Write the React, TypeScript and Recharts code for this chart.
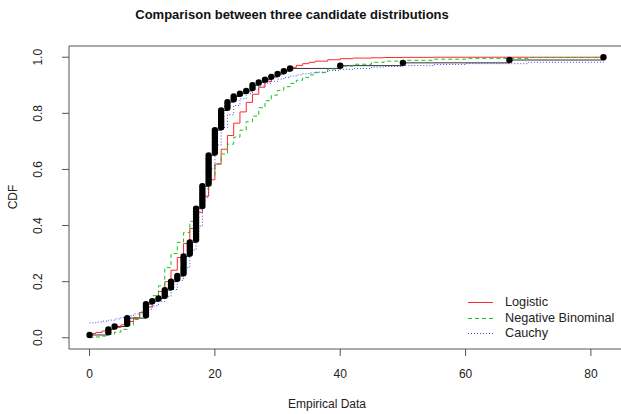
import React from 'react';
import { ComposedChart, Line, Scatter, XAxis, YAxis, ReferenceArea } from 'recharts';

// empirical sample: distinct values and how many times each occurs
const empX = [0, 3, 4, 6, 9, 10, 11, 12, 13, 14, 15, 16, 17, 18, 19, 20, 21, 22, 23, 24, 25, 26, 27, 28, 29, 30, 31, 32, 40, 50, 67, 82];
const empCount = [1, 2, 1, 3, 5, 1, 1, 3, 3, 2, 7, 5, 12, 8, 11, 9, 7, 3, 2, 1, 1, 2, 1, 1, 1, 1, 1, 1, 1, 1, 1, 1];

const fitX = [0, 1, 2, 3, 4, 5, 6, 7, 8, 9, 10, 11, 12, 13, 14, 15, 16, 17, 18, 19, 20, 21, 22, 23, 24, 25, 26, 27, 28, 29, 30, 31, 32, 33, 34, 35, 36, 38, 40, 42, 45, 47, 50, 55, 60, 70, 82];
const logisticP = [0.015, 0.019, 0.024, 0.03, 0.037, 0.046, 0.058, 0.072, 0.089, 0.11, 0.135, 0.165, 0.2, 0.241, 0.286, 0.336, 0.39, 0.447, 0.505, 0.563, 0.619, 0.672, 0.721, 0.765, 0.805, 0.839, 0.868, 0.893, 0.913, 0.93, 0.944, 0.955, 0.964, 0.971, 0.977, 0.982, 0.986, 0.991, 0.995, 0.997, 0.998, 0.999, 0.9995, 1, 1, 1, 1];
const negbinP = [0.001, 0.003, 0.006, 0.012, 0.02, 0.03, 0.045, 0.065, 0.09, 0.12, 0.15, 0.185, 0.25, 0.3, 0.34, 0.375, 0.415, 0.465, 0.53, 0.58, 0.62, 0.655, 0.69, 0.715, 0.74, 0.77, 0.79, 0.82, 0.845, 0.865, 0.882, 0.895, 0.907, 0.918, 0.928, 0.937, 0.945, 0.958, 0.968, 0.975, 0.982, 0.986, 0.989, 0.993, 0.996, 0.999, 1];
const cauchyP = [0.053, 0.056, 0.059, 0.063, 0.067, 0.072, 0.078, 0.085, 0.093, 0.102, 0.114, 0.129, 0.148, 0.172, 0.205, 0.25, 0.313, 0.398, 0.5, 0.602, 0.687, 0.75, 0.795, 0.828, 0.852, 0.871, 0.886, 0.898, 0.907, 0.914, 0.922, 0.928, 0.933, 0.937, 0.941, 0.944, 0.947, 0.953, 0.957, 0.96, 0.965, 0.967, 0.97, 0.974, 0.977, 0.982, 0.985];

const xTicks = [0, 20, 40, 60, 80];
const yTicks = [0, 0.2, 0.4, 0.6, 0.8, 1.0];

const legendItems = [
    { name: 'Logistic', color: '#ff2a2a', dash: undefined },
    { name: 'Negative Binominal', color: '#1cbf1c', dash: '4 3' },
    { name: 'Cauchy', color: '#4040ff', dash: '1 2' },
];

const n = empCount.reduce((a, b) => a + b, 0);

// ecdf steps and the stacked points of tied values
const ecdfLine: { x: number; p: number }[] = [];
const ecdfDots: { x: number; p: number }[] = [];
let cum = 0;
empX.forEach((x, i) => {
    for (let k = 0; k < empCount[i]; k++) {
        cum += 1;
        ecdfDots.push({ x, p: cum / n });
    }
    ecdfLine.push({ x, p: cum / n });
});

const fitData = (vals: number[]) => fitX.map((x, i) => ({ x, p: vals[i] }));

const font = '"Liberation Sans", Arial, sans-serif';

const XTick = ({ x, payload }: any) => (
    <text x={x} y={374} textAnchor="middle" dominantBaseline="central" fontSize={12} fill="#222" fontFamily={font}>
        {payload.value}
    </text>
);

const YTick = ({ y, payload }: any) => (
    <text x={38} y={y} transform={`rotate(-90 38 ${y})`} textAnchor="middle" dominantBaseline="central" fontSize={12} fill="#222" fontFamily={font}>
        {payload.value.toFixed(1)}
    </text>
);

const Dot = (props: any) => <circle cx={props.cx} cy={props.cy} r={3.2} fill="#000" />;

export default function App() {
    return (
        <div style={{ position: 'fixed', left: 0, top: 0, width: 630, height: 414, background: '#fff', fontFamily: font }}>
            <ComposedChart width={630} height={414} margin={{ top: 46, right: 6, bottom: 0, left: 0 }}>
                <XAxis
                    type="number"
                    dataKey="x"
                    domain={[-3.28, 85.28]}
                    ticks={xTicks}
                    height={65}
                    axisLine={false}
                    tickSize={7}
                    tickLine={{ stroke: '#555' }}
                    tick={<XTick />}
                    allowDataOverflow
                />
                <YAxis
                    type="number"
                    dataKey="p"
                    domain={[-0.04, 1.04]}
                    ticks={yTicks}
                    width={69}
                    axisLine={false}
                    tickSize={7}
                    tickLine={{ stroke: '#555' }}
                    tick={<YTick />}
                    allowDataOverflow
                />
                <ReferenceArea x1={-3.28} x2={85.28} y1={-0.04} y2={1.04} fill="none" stroke="#555" strokeWidth={1} ifOverflow="visible" />
                <Line data={ecdfLine} dataKey="p" type="stepAfter" stroke="#333" strokeWidth={1} dot={false} isAnimationActive={false} />
                <Scatter data={ecdfDots} dataKey="p" shape={<Dot />} isAnimationActive={false} />
                <Line data={fitData(logisticP)} dataKey="p" type="stepAfter" stroke={legendItems[0].color} strokeWidth={1} dot={false} isAnimationActive={false} />
                <Line data={fitData(negbinP)} dataKey="p" type="stepAfter" stroke={legendItems[1].color} strokeWidth={1} strokeDasharray="4 3" dot={false} isAnimationActive={false} />
                <Line data={fitData(cauchyP)} dataKey="p" type="stepAfter" stroke={legendItems[2].color} strokeWidth={1} strokeDasharray="1 2" dot={false} isAnimationActive={false} />
            </ComposedChart>

            <div style={{ position: 'absolute', left: 0, width: 584, top: 7, textAlign: 'center', fontSize: 13, fontWeight: 'bold', color: '#111' }}>
                Comparison between three candidate distributions
            </div>
            <div style={{ position: 'absolute', left: 227, width: 200, top: 397, textAlign: 'center', fontSize: 12, color: '#222' }}>
                Empirical Data
            </div>
            <div style={{ position: 'absolute', left: 13, top: 197, transform: 'translate(-50%, -50%) rotate(-90deg)', fontSize: 12, color: '#222' }}>
                CDF
            </div>
            {legendItems.map((item, i) => (
                <div key={item.name} style={{ position: 'absolute', left: 468, top: 295 + i * 15.6, height: 15, display: 'flex', alignItems: 'center' }}>
                    <svg width={26} height={15}>
                        <line x1={0} x2={25} y1={7.5} y2={7.5} stroke={item.color} strokeWidth={1} strokeDasharray={item.dash} />
                    </svg>
                    <span style={{ marginLeft: 11, fontSize: 12.7, color: '#222', lineHeight: '15px' }}>{item.name}</span>
                </div>
            ))}
        </div>
    );
}
